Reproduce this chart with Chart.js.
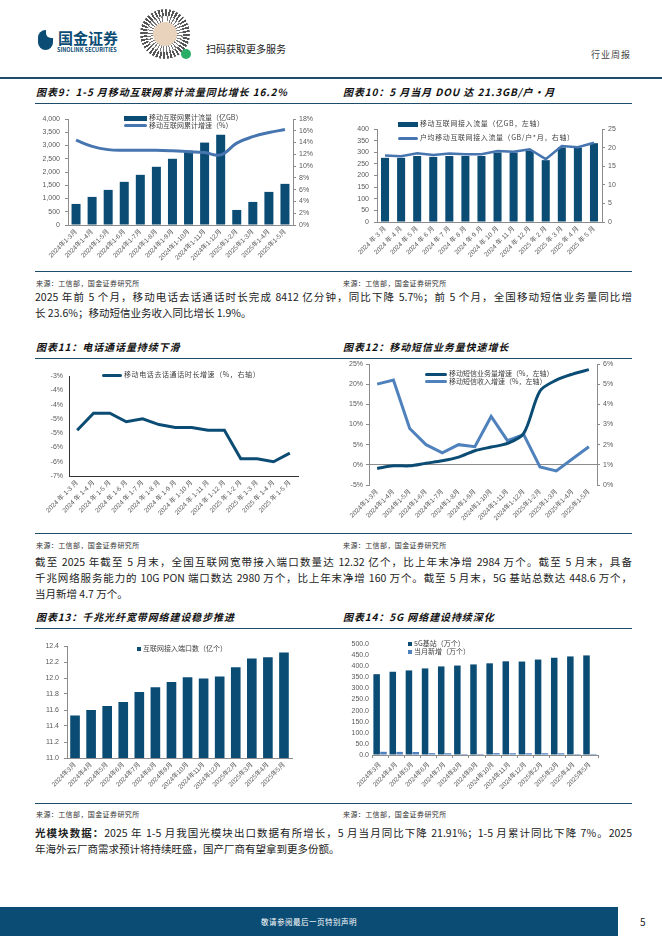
<!DOCTYPE html>
<html>
<head>
<meta charset="utf-8">
<script src="https://cdn.jsdelivr.net/npm/chart.js@4.4.1/dist/chart.umd.min.js"></script>
<style>
html, body { margin: 0; padding: 0; background: #fff; }
#page { position: relative; width: 662px; height: 936px; overflow: hidden; font-family: "Noto Sans CJK SC", sans-serif; color: #222; }
.abs { position: absolute; white-space: nowrap; }
.rule { position: absolute; left: 35px; width: 597px; height: 1px; background: #1d4d6b; }
.title { position: absolute; font-size: 10px; line-height: 12px; font-weight: bold; font-style: italic; color: #111; white-space: nowrap; letter-spacing: 0.9px; }
.src { position: absolute; font-size: 7px; line-height: 8px; color: #333; white-space: nowrap; letter-spacing: 0.4px; }
.para { position: absolute; left: 35px; width: 597px; font-size: 10.5px; line-height: 16px; color: #222; }
.para div { white-space: nowrap; text-align: justify; text-align-last: justify; }
.para div.last { text-align-last: left; }
canvas { position: absolute; }
.lg { position: absolute; font-size: 7px; line-height: 7.5px; color: #404040; white-space: nowrap; }
.lg span { display: inline-block; vertical-align: middle; margin-right: 2px; }
</style>
</head>
<body>
<div id="page">
  <!-- header -->
  <div class="abs" style="left:38px;top:30px;width:15px;height:20px;border-radius:8px 3px 8px 8px;background:#0b4c74;"></div>
  <div class="abs" style="left:46px;top:29px;width:7px;height:9px;background:#fff;border-radius:0 0 0 5px;"></div>
  <div class="abs" style="left:58px;top:29px;font-size:15px;line-height:17px;font-weight:bold;color:#0b4c74;">国金证券</div>
  <div class="abs" style="left:57px;top:47px;font-size:5.5px;line-height:6px;font-weight:bold;color:#0b4c74;">SINOLINK SECURITIES</div>
  <div class="abs" style="left:140px;top:9px;width:50px;height:50px;border-radius:50%;background:repeating-conic-gradient(#555 0 5deg,#fff 5deg 9deg);"></div>
  <div class="abs" style="left:147px;top:16px;width:36px;height:36px;border-radius:50%;background:repeating-conic-gradient(#fff 0 7deg,#777 7deg 11deg);"></div>
  <div class="abs" style="left:153px;top:22px;width:24px;height:24px;border-radius:50%;background:#e9d3bd;"></div>
  <div class="abs" style="left:181px;top:49px;width:10px;height:10px;border-radius:50%;background:#2aae67;"></div>
  <div class="abs" style="left:206px;top:42px;font-size:10px;line-height:13px;color:#222;">扫码获取更多服务</div>
  <div class="abs" style="left:591px;top:49px;font-size:9px;line-height:12px;color:#444;letter-spacing:1px;">行业周报</div>
  <div class="abs" style="left:0;top:77px;width:662px;height:1.5px;background:#1d4d6b;"></div>

  <!-- row 1 -->
  <div class="title" style="left:36px;top:86px;">图表9：1-5 月移动互联网累计流量同比增长 16.2%</div>
  <div class="title" style="left:343px;top:86px;">图表10：5 月当月 DOU 达 21.3GB/户•月</div>
  <div class="rule" style="top:103px;"></div>
  <canvas id="c9" width="295" height="154" style="left:30px;top:108px;"></canvas>
  <canvas id="c10" width="300" height="154" style="left:330px;top:108px;"></canvas>
  <div class="lg" style="left:124px;top:114px;">
    <div><span style="width:23px;height:5px;background:#0b4c74;"></span>移动互联网累计流量（亿GB）</div>
    <div><span style="width:23px;height:3px;background:#4675b0;border-radius:2px;"></span>移动互联网累计增速（%）</div>
  </div>
  <div class="lg" style="left:398px;top:116px;line-height:14px;letter-spacing:0.6px;">
    <div><span style="width:20px;height:5px;background:#0b4c74;"></span>移动互联网接入流量（亿GB，左轴）</div>
    <div><span style="width:20px;height:3px;background:#4675b0;border-radius:2px;"></span>户均移动互联网接入流量（GB/户*月，右轴）</div>
  </div>
  <div class="rule" style="top:271px;"></div>
  <div class="src" style="left:36px;top:279px;">来源：工信部，国金证券研究所</div>
  <div class="src" style="left:343px;top:279px;">来源：工信部，国金证券研究所</div>
  <div class="para" style="top:289px;">
    <div>2025 年前 5 个月，移动电话去话通话时长完成 8412 亿分钟，同比下降 5.7%；前 5 个月，全国移动短信业务量同比增</div>
    <div class="last">长 23.6%；移动短信业务收入同比增长 1.9%。</div>
  </div>

  <!-- row 2 -->
  <div class="title" style="left:36px;top:341px;">图表11：电话通话量持续下滑</div>
  <div class="title" style="left:343px;top:341px;">图表12：移动短信业务量快速增长</div>
  <div class="rule" style="top:358px;"></div>
  <canvas id="c11" width="295" height="168" style="left:30px;top:362px;"></canvas>
  <canvas id="c12" width="300" height="175" style="left:330px;top:355px;"></canvas>
  <div class="lg" style="left:102px;top:371px;letter-spacing:0.6px;">
    <div><span style="width:20px;height:3px;background:#0b4c74;border-radius:2px;"></span>移动电话去话通话时长增速（%，右轴）</div>
  </div>
  <div class="lg" style="left:425px;top:370px;">
    <div><span style="width:22px;height:3px;background:#0b4c74;border-radius:2px;"></span>移动短信业务量增速（%，左轴）</div>
    <div><span style="width:22px;height:3px;background:#4f81bd;border-radius:2px;"></span>移动短信收入增速（%，左轴）</div>
  </div>
  <div class="rule" style="top:533px;"></div>
  <div class="src" style="left:36px;top:541px;">来源：工信部，国金证券研究所</div>
  <div class="src" style="left:343px;top:541px;">来源：工信部，国金证券研究所</div>
  <div class="para" style="top:554px;">
    <div>截至 2025 年截至 5 月末，全国互联网宽带接入端口数量达 12.32 亿个，比上年末净增 2984 万个。截至 5 月末，具备</div>
    <div>千兆网络服务能力的 10G PON 端口数达 2980 万个，比上年末净增 160 万个。截至 5 月末，5G 基站总数达 448.6 万个，</div>
    <div class="last">当月新增 4.7 万个。</div>
  </div>

  <!-- row 3 -->
  <div class="title" style="left:36px;top:611px;">图表13：千兆光纤宽带网络建设稳步推进</div>
  <div class="title" style="left:343px;top:611px;">图表14：5G 网络建设持续深化</div>
  <div class="rule" style="top:628px;"></div>
  <canvas id="c13" width="295" height="165" style="left:30px;top:635px;"></canvas>
  <canvas id="c14" width="300" height="165" style="left:330px;top:635px;"></canvas>
  <div class="lg" style="left:137px;top:645px;">
    <div><span style="width:4px;height:4px;background:#0b4c74;"></span>互联网接入端口数（亿个）</div>
  </div>
  <div class="lg" style="left:408px;top:640px;">
    <div><span style="width:4px;height:4px;background:#0b4c74;"></span>5G基站（万个）</div>
    <div><span style="width:4px;height:4px;background:#4f81bd;"></span>当月新增（万个）</div>
  </div>
  <div class="rule" style="top:803px;"></div>
  <div class="src" style="left:36px;top:810px;">来源：工信部，国金证券研究所</div>
  <div class="src" style="left:343px;top:810px;">来源：工信部，国金证券研究所</div>
  <div class="para" style="top:825px;">
    <div><b>光模块数据：</b>2025 年 1-5 月我国光模块出口数据有所增长，5 月当月同比下降 21.91%；1-5 月累计同比下降 7%。2025</div>
    <div class="last">年海外云厂商需求预计将持续旺盛，国产厂商有望拿到更多份额。</div>
  </div>

  <!-- footer -->
  <div class="abs" style="left:0;top:907px;width:618px;height:29px;background:#0b4c74;"></div>
  <div class="abs" style="left:0;top:917px;width:618px;text-align:center;font-size:7.5px;line-height:10px;color:#fff;letter-spacing:0.5px;">敬请参阅最后一页特别声明</div>
  <div class="abs" style="left:640px;top:915px;font-size:10px;line-height:14px;color:#222;">5</div>
</div>

<script>
// categories
const cumMonths = ["2024年1-3月", "2024年1-4月", "2024年1-5月", "2024年1-6月", "2024年1-7月", "2024年1-8月", "2024年1-9月",
    "2024年1-10月", "2024年1-11月", "2024年1-12月", "2025年1-2月", "2025年1-3月", "2025年1-4月", "2025年1-5月"];
const cumMonthsSpaced = ["2024 年 1-3 月", "2024 年 1-4 月", "2024 年 1-5 月", "2024 年 1-6 月", "2024 年 1-7 月", "2024 年 1-8 月", "2024 年 1-9 月",
    "2024 年 1-10 月", "2024 年 1-11 月", "2024 年 1-12 月", "2025 年 1-2 月", "2025 年 1-3 月", "2025 年 1-4 月", "2025 年 1-5 月"];
const months = ["2024年3月", "2024年4月", "2024年5月", "2024年6月", "2024年7月", "2024年8月", "2024年9月",
    "2024年10月", "2024年11月", "2024年12月", "2025年2月", "2025年3月", "2025年4月", "2025年5月"];
const monthsSpaced = ["2024 年 3 月", "2024 年 4 月", "2024 年 5 月", "2024 年 6 月", "2024 年 7 月", "2024 年 8 月", "2024 年 9 月",
    "2024 年 10 月", "2024 年 11 月", "2024 年 12 月", "2025 年 2 月", "2025 年 3 月", "2025 年 4 月", "2025 年 5 月"];

// 图表9
const cumTraffic       = [795, 1060, 1325, 1628, 1893, 2196, 2498, 2810, 3110, 3410, 568, 871, 1249, 1552];
const cumTrafficGrowth = [14.4, 13.35, 12.8, 12.7, 12.7, 12.7, 12.6, 12.45, 12.3, 11.9, 13.9, 15.0, 15.7, 16.2];
// 图表10
const monthTraffic = [276, 276, 284, 280, 284, 284, 284, 299, 299, 307, 266, 321, 320, 339];
const dou          = [17.9, 17.7, 18.5, 18.0, 18.4, 18.2, 18.2, 19.1, 18.9, 19.55, 16.9, 20.4, 20.1, 21.3];
// 图表11
const callGrowth = [-4.9, -4.3, -4.3, -4.6, -4.5, -4.7, -4.8, -4.8, -4.9, -4.9, -5.9, -5.9, -6.0, -5.7];
// 图表12
const smsVolGrowth = [-0.9, -0.25, -0.25, 0.4, 1.0, 1.9, 3.5, 4.4, 5.3, 7.8, 18.3, 21.0, 22.5, 23.6];
const smsRevGrowth = [5.0, 5.2, 2.8, 2.0, 1.6, 2.0, 1.9, 3.4, 2.2, 2.5, 0.9, 0.7, 1.3, 1.9];
// 图表13
const ports = [11.53, 11.60, 11.65, 11.70, 11.825, 11.885, 11.95, 12.01, 11.995, 12.02, 12.135, 12.245, 12.26, 12.32];
// 图表14
const bs5g    = [364, 375, 381, 390, 399, 403, 408, 413, 422, 421, 430, 438, 444, 448.6];
const bs5gNew = [14.5, 14, 13.5, 8.5, 8, 4.6, 4.7, 8.5, 8, 8, 8, 7.8, 4.4, 4.7];

const NAVY  = "#0b4c74";
const BLUE  = "#4675b0";
const LBLUE = "#4f81bd";
const AXIS  = "#8c8c8c";
const TICK  = "#595959";

Chart.defaults.animation = false;
Chart.defaults.responsive = false;
Chart.defaults.font.family = "'Liberation Sans','Noto Sans CJK SC',sans-serif";
Chart.defaults.plugins.legend.display = false;
Chart.defaults.plugins.tooltip.enabled = false;

function xAxis(height, { line = AXIS, ticks = false, show = true } = {}) {
    return {
        offset  : true,
        afterFit: s => { s.height = height; },
        border  : { display: show, color: line },
        grid    : { drawOnChartArea: false, drawTicks: ticks, tickLength: 3, color: line },
        ticks   : { color: TICK, font: { size: 6.5 }, autoSkip: false, minRotation: 45, maxRotation: 45, padding: 3 }
    };
}

function yAxis(position, width, min, max, step, fmt, { line = AXIS, show = true, ticks = true, pad = 4, grid = null } = {}) {
    return {
        position, min, max,
        afterFit: s => { s.width = width; },
        border  : { display: show, color: line },
        grid    : grid ?? { drawOnChartArea: false, drawTicks: ticks, tickLength: 3, color: line },
        ticks   : { stepSize: step, color: TICK, font: { size: 7 }, padding: pad, autoSkip: false, callback: fmt }
    };
}

const pct = v => `${v}%`;

new Chart(document.getElementById("c9"), {
    type: "bar",
    data: {
        labels  : cumMonths,
        datasets: [
            { type: "line", data: cumTrafficGrowth, yAxisID: "y1", borderColor: BLUE, borderWidth: 3, tension: 0.4, pointRadius: 0, order: 0 },
            { type: "bar", data: cumTraffic, yAxisID: "y", backgroundColor: NAVY, categoryPercentage: 1, barPercentage: 0.56, order: 1 }
        ]
    },
    options: {
        layout: { padding: { top: 11, left: 0, right: 0, bottom: 0 } },
        scales: {
            x : xAxis(37),
            y : yAxis("left", 38, 0, 4000, 500, v => v.toLocaleString("en-US"), { pad: 5 }),
            y1: yAxis("right", 32, 0, 18, 2, pct, { pad: 3 })
        }
    }
});

new Chart(document.getElementById("c10"), {
    type: "bar",
    data: {
        labels  : monthsSpaced,
        datasets: [
            { type: "line", data: dou, yAxisID: "y1", borderColor: BLUE, borderWidth: 2.5, tension: 0, pointRadius: 0, order: 0 },
            { type: "bar", data: monthTraffic, yAxisID: "y", backgroundColor: NAVY, categoryPercentage: 1, barPercentage: 0.5, order: 1 }
        ]
    },
    options: {
        layout: { padding: { top: 21, left: 0, right: 0, bottom: 0 } },
        scales: {
            x : xAxis(40),
            y : yAxis("left", 47, 0, 400, 50, v => v, { pad: 5 }),
            y1: yAxis("right", 28, 0, 25, 5, v => v, { pad: 3 })
        }
    }
});

new Chart(document.getElementById("c11"), {
    type: "line",
    data: {
        labels  : cumMonthsSpaced,
        datasets: [{ data: callGrowth, borderColor: NAVY, borderWidth: 3, tension: 0, pointRadius: 0 }]
    },
    options: {
        layout: { padding: { top: 14, left: 0, right: 27, bottom: 0 } },
        scales: {
            x: xAxis(54, { line: "#333" }),
            y: yAxis("left", 39, -6.5, -3, 0.5, v => `${Math.sign(v) * Math.round(Math.abs(v))}%`, { line: "#333", ticks: false, pad: 6 })
        }
    }
});

new Chart(document.getElementById("c12"), {
    type: "line",
    data: {
        labels  : cumMonths,
        datasets: [
            { data: smsVolGrowth, yAxisID: "y", borderColor: NAVY, borderWidth: 3, tension: 0.3, pointRadius: 0 },
            { data: smsRevGrowth, yAxisID: "y1", borderColor: LBLUE, borderWidth: 3, tension: 0, pointRadius: 0 }
        ]
    },
    options: {
        layout: { padding: { top: 9, left: 0, right: 0, bottom: 0 } },
        scales: {
            x : xAxis(45, { show: false }),
            y : yAxis("left", 39, -5, 25, 5, pct, {
                pad : 3,
                grid: { drawOnChartArea: true, drawTicks: true, tickLength: 3, tickColor: AXIS,
                        color: ctx => (ctx.tick && ctx.tick.value === 0 ? AXIS : "rgba(0,0,0,0)") }
            }),
            y1: yAxis("right", 33, 0, 6, 1, pct, { pad: 3 })
        }
    }
});

new Chart(document.getElementById("c13"), {
    type: "bar",
    data: {
        labels  : months,
        datasets: [{ data: ports, backgroundColor: NAVY, categoryPercentage: 1, barPercentage: 0.6 }]
    },
    options: {
        layout: { padding: { top: 11, left: 0, right: 33, bottom: 0 } },
        scales: {
            x: xAxis(42),
            y: yAxis("left", 37, 11, 12.4, 0.2, v => v.toFixed(1), { pad: 5 })
        }
    }
});

new Chart(document.getElementById("c14"), {
    type: "bar",
    data: {
        labels  : months,
        datasets: [
            { data: bs5g, backgroundColor: NAVY, categoryPercentage: 0.85, barPercentage: 0.95 },
            { data: bs5gNew, backgroundColor: LBLUE, categoryPercentage: 0.85, barPercentage: 0.95 }
        ]
    },
    options: {
        layout: { padding: { top: 9, left: 0, right: 32, bottom: 0 } },
        scales: {
            x: xAxis(45, { ticks: true }),
            y: yAxis("left", 42, 0, 500, 50, v => v.toFixed(1), { show: false, ticks: false, pad: 3 })
        }
    }
});
</script>
</body>
</html>
